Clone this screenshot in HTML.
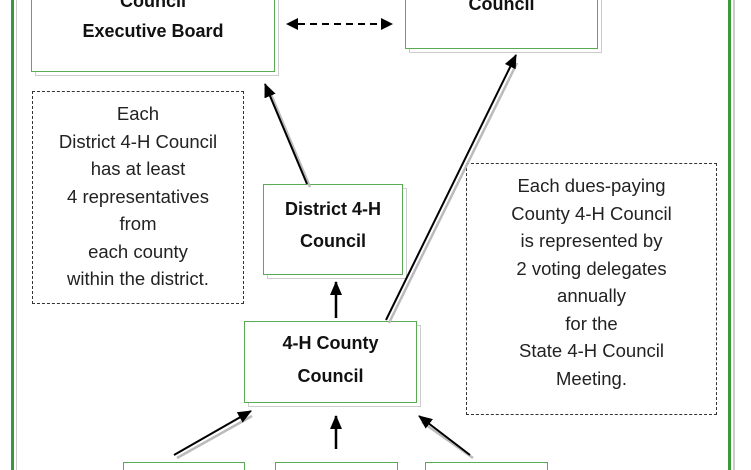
<!DOCTYPE html>
<html><head><style>
html,body{margin:0;padding:0;width:751px;height:470px;overflow:hidden;background:#fff;font-family:"Liberation Sans",sans-serif}
#w{position:relative;width:751px;height:470px;overflow:hidden}
.b{position:absolute;border:1px solid #5aaa55;background:#fff;box-shadow:4px 4px 0 -1px #fff,4px 4px 0 0 #ccc;text-align:center;font-weight:bold;font-size:18px;color:#111}
.e{position:absolute;border:1px solid #5aaa55;border-bottom:none;background:#fff;box-sizing:border-box;height:8px;top:462px}
.d{position:absolute;border:1px dashed #333;text-align:center;font-size:18.5px;color:#222;line-height:27.5px;white-space:nowrap}
</style></head><body><div id="w">
<div style="position:absolute;left:11px;top:-5px;width:720px;height:475px;box-sizing:border-box;border:3px solid #3a9a3a;border-bottom:none"></div>
<div style="position:absolute;left:16px;top:0;width:1px;height:470px;background:#ccc"></div>
<div style="position:absolute;left:733px;top:0;width:2px;height:470px;background:#ccc"></div>
<div class="b" style="left:31px;top:-20px;width:242px;height:90px;line-height:30px"><div style="padding-top:5px">Council<br>Executive Board</div></div>
<div class="b" style="left:405px;top:-20px;width:191px;height:67px"><div style="padding-top:13px">Council</div></div>
<div class="d" style="left:32px;top:91px;width:210px;height:211px"><div style="padding-top:8px">Each<br>District 4-H Council<br>has at least<br>4 representatives<br>from<br>each county<br>within the district.</div></div>
<div class="b" style="left:263px;top:184px;width:138px;height:89px;line-height:32px"><div style="padding-top:8px">District 4-H<br>Council</div></div>
<div class="b" style="left:244px;top:321px;width:171px;height:80px;line-height:33px"><div style="padding-top:5px">4-H County<br>Council</div></div>
<div class="d" style="left:466px;top:163px;width:249px;height:250px"><div style="padding-top:8px">Each dues-paying<br>County 4-H Council<br>is represented by<br>2 voting delegates<br>annually<br>for the<br>State 4-H Council<br>Meeting.</div></div>
<div class="e" style="left:123px;width:122px"></div>
<div class="e" style="left:275px;width:123px"></div>
<div class="e" style="left:425px;width:123px"></div>
<svg width="751" height="470" style="position:absolute;left:0;top:0">
<defs><marker id="a" markerWidth="14" markerHeight="12" refX="13" refY="6" orient="auto" markerUnits="userSpaceOnUse"><path d="M0,0 L14,6 L0,12z" fill="#000"/></marker></defs>
<g stroke="#bbb" stroke-width="2.5" fill="none">
<line x1="310" y1="187" x2="270" y2="92"/><line x1="389" y1="323" x2="517" y2="63"/>
<line x1="177" y1="458" x2="252" y2="416"/><line x1="473" y1="458" x2="422" y2="422"/>
</g>
<g stroke="#000" stroke-width="2" fill="none">
<line x1="298" y1="24" x2="382" y2="24" stroke-dasharray="7,5"/>
<path d="M286,24 L298,18 L298,30z M393,24 L381,18 L381,30z" fill="#000" stroke="none"/>
<line x1="307" y1="184" x2="265" y2="84" marker-end="url(#a)"/>
<line x1="386" y1="320" x2="516" y2="55" marker-end="url(#a)"/>
<line x1="336" y1="318" x2="336" y2="282" stroke-width="2.5" marker-end="url(#a)"/>
<line x1="336" y1="449" x2="336" y2="416" stroke-width="2.5" marker-end="url(#a)"/>
<line x1="174" y1="455" x2="251" y2="411" marker-end="url(#a)"/>
<line x1="470" y1="455" x2="419" y2="416" marker-end="url(#a)"/>
</g>
</svg>
</div></body></html>
